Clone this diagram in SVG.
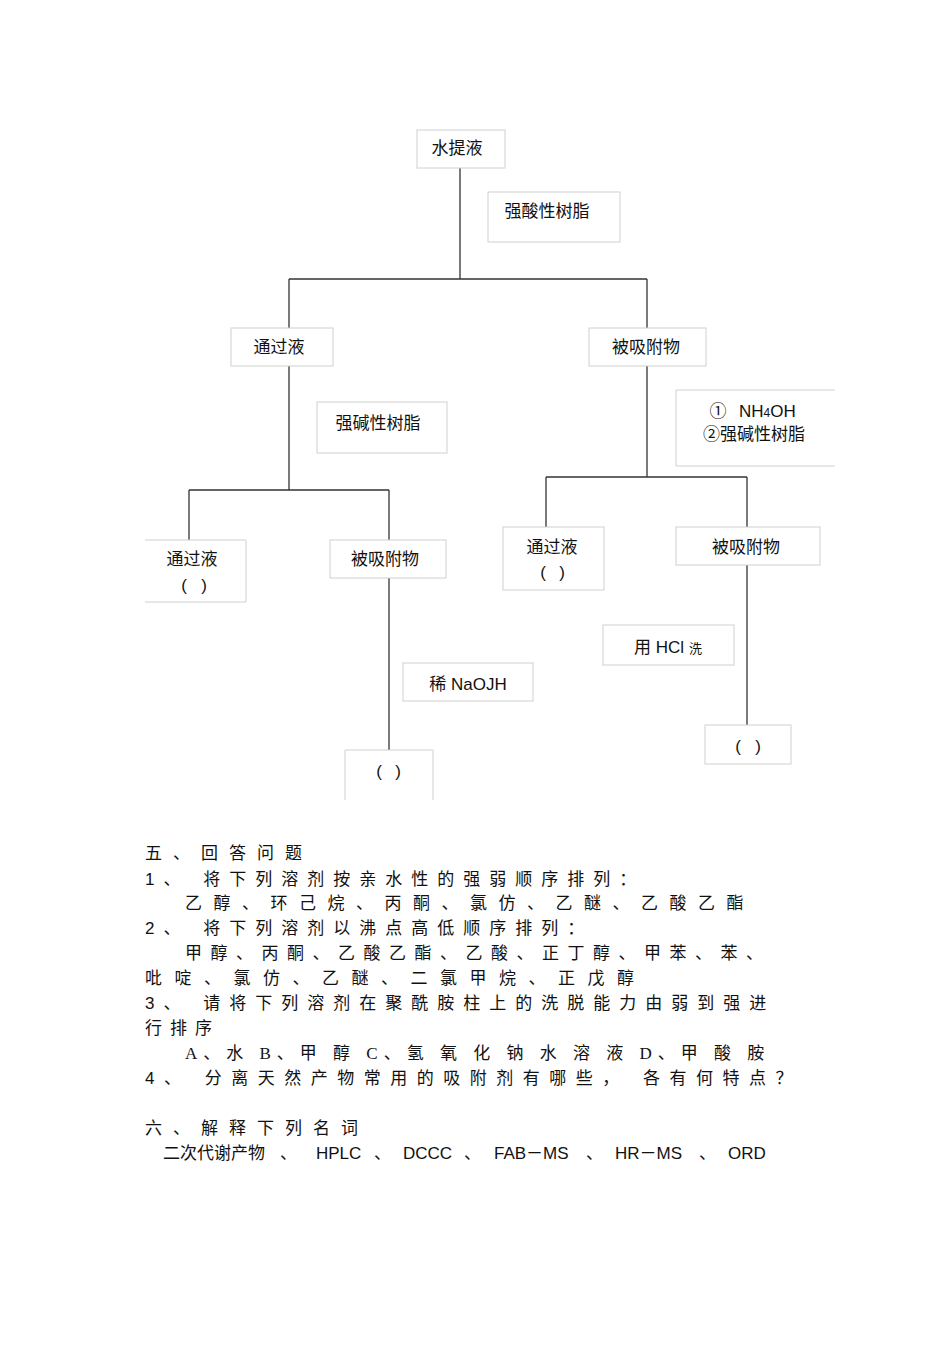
<svg xmlns="http://www.w3.org/2000/svg" width="950" height="1345" viewBox="0 0 950 1345">
<style>
.b{fill:#fff;stroke:#d0d0d0;stroke-width:1}
.t{font-family:"Liberation Sans","Noto Sans CJK SC",sans-serif;font-size:17px;fill:#111}
.c{text-anchor:middle}
.l{stroke:#333;stroke-width:1.3;fill:none}
</style>
<rect width="950" height="1345" fill="#fff"/>
<g id="connectors">
<path class="l" d="M460 168V279M289 279H647M289 279V328M647 279V328M289 366V490M189 490H389M189 490V540M389 490V540M647 366V477M546 477H747M546 477V527M747 477V527M389 578V750M747 565V725"/>
</g>
<g id="n1"><rect class="b" x="417" y="130" width="88" height="38"/><text class="t c" x="457" y="154">水提液</text></g>
<g id="n2"><rect class="b" x="488" y="192" width="132" height="50"/><text class="t c" x="547" y="217">强酸性树脂</text></g>
<g id="n3"><rect class="b" x="231" y="328" width="102" height="38"/><text class="t c" x="279" y="353">通过液</text></g>
<g id="n4"><rect class="b" x="589" y="328" width="117" height="38"/><text class="t c" x="646" y="353">被吸附物</text></g>
<g id="n5"><rect class="b" x="317" y="402" width="130" height="51"/><text class="t c" x="378" y="429">强碱性树脂</text></g>
<g id="n6"><path class="b" d="M835 390H676V466H835"/><text class="t c" x="718" y="417">①</text><text class="t" x="739" y="417">NH<tspan font-size="12">4</tspan>OH</text><text class="t c" x="754" y="440">②强碱性树脂</text></g>
<g id="n7"><path class="b" d="M145 540H246V602H145"/><text class="t c" x="192" y="565">通过液</text><text class="t c" x="184" y="591">(</text><text class="t c" x="204" y="591">)</text></g>
<g id="n8"><rect class="b" x="330" y="540" width="116" height="38"/><text class="t c" x="385" y="565">被吸附物</text></g>
<g id="n9"><rect class="b" x="403" y="663" width="130" height="38"/><text class="t c" x="468" y="690">稀 NaOJH</text></g>
<g id="n10"><path class="b" d="M345 800V750H433V800"/><text class="t c" x="379" y="777">(</text><text class="t c" x="398" y="777">)</text></g>
<g id="n11"><rect class="b" x="503" y="527" width="101" height="63"/><text class="t c" x="543" y="578">(</text><text class="t c" x="562" y="578">)</text><text class="t c" x="552" y="553">通过液</text></g>
<g id="n12"><rect class="b" x="676" y="527" width="144" height="38"/><text class="t c" x="746" y="553">被吸附物</text></g>
<g id="n13"><rect class="b" x="603" y="625" width="131" height="40"/><text class="t c" x="668" y="653">用 HCl <tspan font-size="13">洗</tspan></text></g>
<g id="n14"><rect class="b" x="705" y="725" width="86" height="39"/><text class="t c" x="738" y="752">(</text><text class="t c" x="758" y="752">)</text></g>
<g id="text" class="t">
<text x="145" y="859" letter-spacing="11">五、回答问题</text>
<text x="145" y="885" letter-spacing="9">1、 将下列溶剂按亲水性的强弱顺序排列：</text>
<text x="185" y="909" letter-spacing="11.5">乙醇、环己烷、丙酮、氯仿、乙醚、乙酸乙酯</text>
<text x="145" y="934" letter-spacing="9">2、 将下列溶剂以沸点高低顺序排列：</text>
<text x="185" y="959" letter-spacing="8.5">甲醇、丙酮、乙酸乙酯、乙酸、正丁醇、甲苯、苯、</text>
<text x="145" y="984" letter-spacing="12.5">吡啶、氯仿、乙醚、二氯甲烷、正戊醇</text>
<text x="145" y="1009" letter-spacing="9">3、 请将下列溶剂在聚酰胺柱上的洗脱能力由弱到强进</text>
<text x="145" y="1034" letter-spacing="8">行排序</text>
<text x="185" y="1059" font-family="Liberation Serif,Noto Sans CJK SC,serif" letter-spacing="6">A、水   B、甲 醇   C、氢 氧 化 钠 水 溶 液   D、甲 酸 胺</text>
<text x="145" y="1084" letter-spacing="9.5">4、 分离天然产物常用的吸附剂有哪些， 各有何特点？</text>
<text x="145" y="1134" letter-spacing="11">六、解释下列名词</text>
<text x="163" y="1159">二次代谢产物</text><text x="280" y="1159">、</text>
<text x="316" y="1159">HPLC</text><text x="374" y="1159">、</text>
<text x="403" y="1159">DCCC</text><text x="464" y="1159">、</text>
<text x="494" y="1159">FAB－MS</text><text x="586" y="1159">、</text>
<text x="615" y="1159">HR－MS</text><text x="699" y="1159">、</text>
<text x="728" y="1159">ORD</text>
</g>
</svg>
